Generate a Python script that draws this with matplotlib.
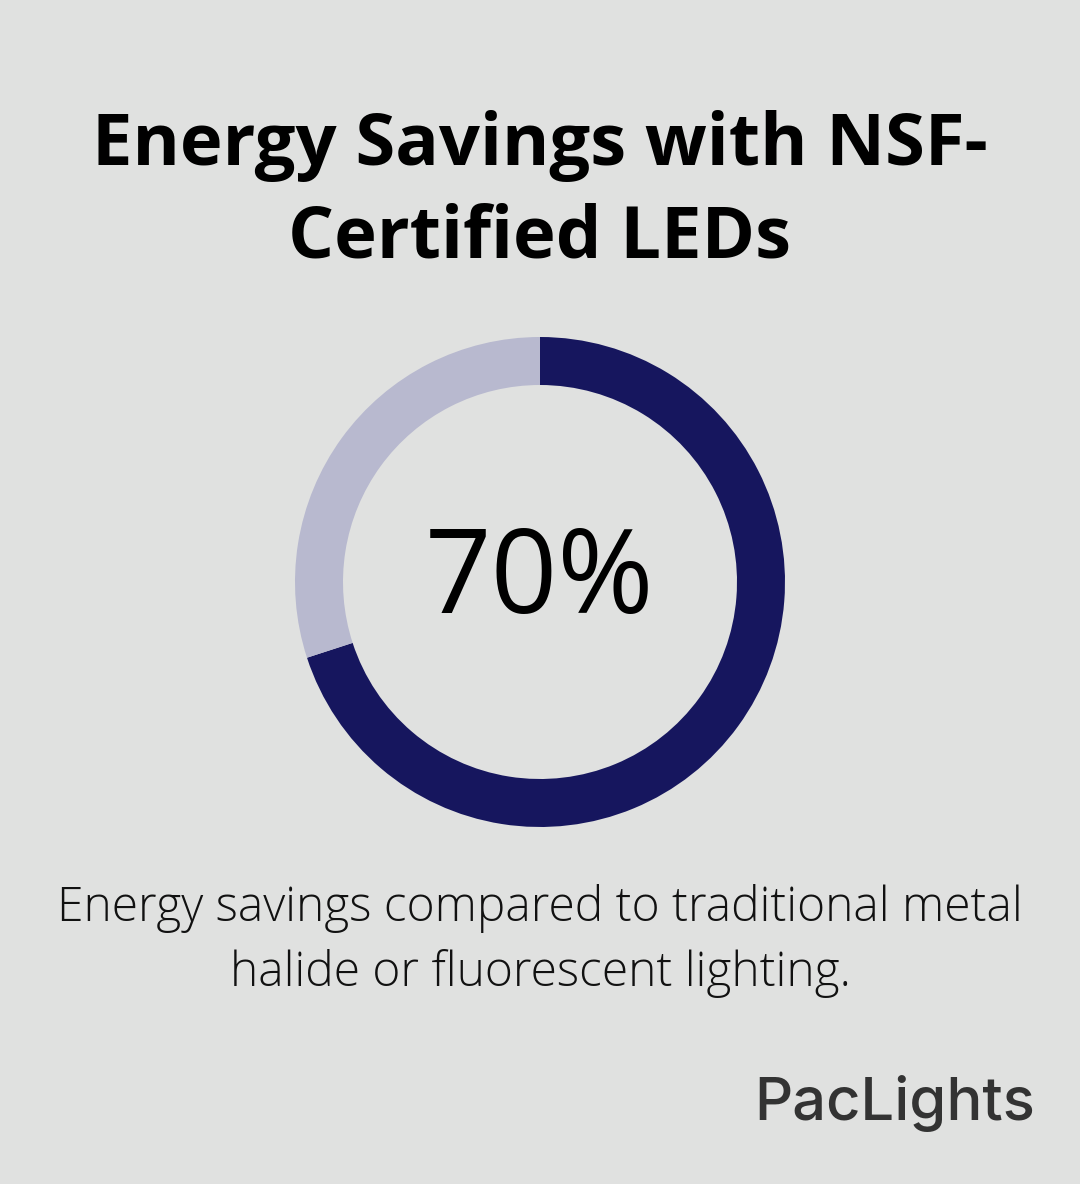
import matplotlib.pyplot as plt

title = "Energy Savings with NSF-\nCertified LEDs"
share_pct = 70
shares = [share_pct, 100 - share_pct]
colors = ["#16165e", "#b8b9cf"]
caption = "Energy savings compared to traditional metal\nhalide or fluorescent lighting."
brand = "PacLights"

W, H = 1080, 1184
fig = plt.figure(figsize=(W / 100, H / 100), dpi=100)
fig.patch.set_facecolor("#e0e1e0")

# donut axes: centre (540, 582) px, outer radius 245 px
r = 245
ax = fig.add_axes([(540 - r) / W, 1 - (582 + r) / H, 2 * r / W, 2 * r / H])
ax.pie(shares, colors=colors, startangle=90, counterclock=False, radius=1,
       wedgeprops=dict(width=48 / r, linewidth=0))
ax.set_xlim(-1, 1)
ax.set_ylim(-1, 1)
ax.set_aspect("equal")
ax.axis("off")
ax.text(0, 0, f"{share_pct}%", ha="center", va="center", fontsize=84,
        family="Open Sans", weight="medium", color="#000000")

fig.text(0.5, 1 - 192 / H, title, ha="center", va="center", fontsize=52,
         family="Open Sans", weight="bold", linespacing=1.38)
fig.text(0.5, 1 - 941 / H, caption, ha="center", va="center", fontsize=34.5,
         family="Open Sans", weight="light", color="#111111", linespacing=1.42)
fig.text(1035 / W, 1 - 1103 / H, brand, ha="right", va="center", fontsize=43,
         family="Inter", weight="medium", color="#333333")

fig.savefig("out.png", dpi=100, facecolor=fig.get_facecolor())
